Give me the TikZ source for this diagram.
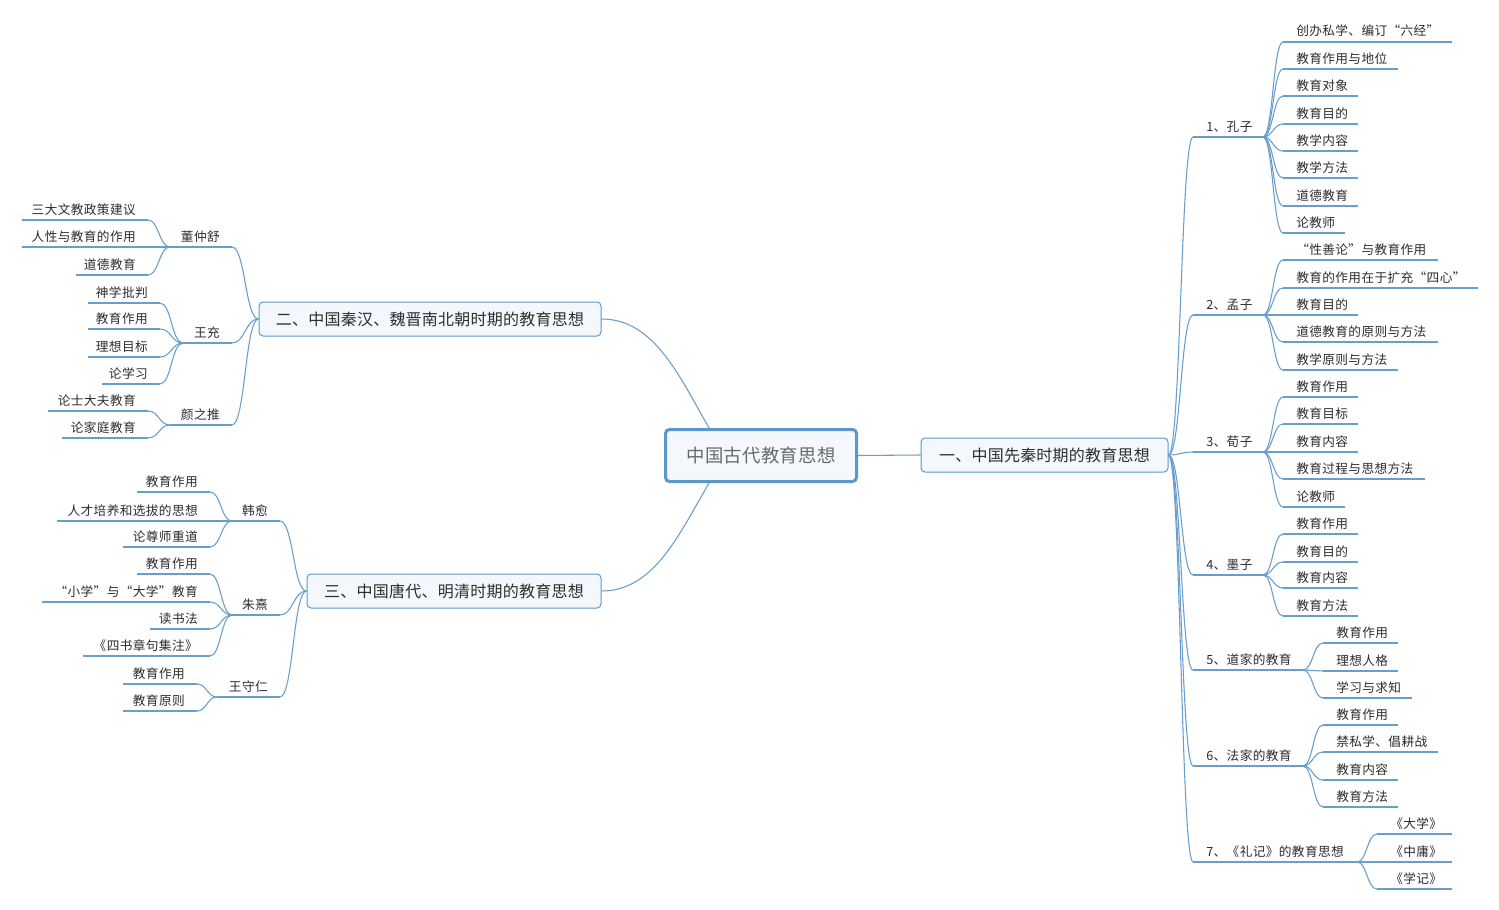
\documentclass[tikz,border=0pt]{standalone}
\usepackage{fontspec}
\newfontfamily\cjk[LetterSpace=3]{Noto Sans CJK SC}
\newfontfamily\cjkt[LetterSpace=1.5]{Noto Sans CJK SC}
\usetikzlibrary{calc,backgrounds}
\definecolor{linkc}{RGB}{104,158,204}
\definecolor{boxline}{RGB}{91,152,202}
\definecolor{boxfill}{RGB}{244,248,252}
\definecolor{txt}{RGB}{45,45,45}
\definecolor{maintxt}{RGB}{105,105,105}
\newcommand\RNode[6]{%
  \coordinate (#1a) at (#3,#5);
  \coordinate (#1b) at (#4,#5);
  \node[lbl,anchor=base west] (#1) at ({#3+13},{#5-6}) {#6};
  \draw[link] (#1a) -- (#1b);
  \draw[link] let \p1=(#2), \p2=(#1a) in (\p1) .. controls ({(\x1+\x2)/2},\y1) and ({(\x1+\x2)/2},\y2) .. (\p2);
}
\newcommand\LNode[6]{%
  \coordinate (#1a) at (#3,#5);
  \coordinate (#1b) at (#4,#5);
  \node[lbl,anchor=base east] (#1) at ({#4-12},{#5-6}) {#6};
  \draw[link] (#1a) -- (#1b);
  \draw[link] let \p1=(#2), \p2=(#1b) in (\p1) .. controls ({(\x1+\x2)/2},\y1) and ({(\x1+\x2)/2},\y2) .. (\p2);
}
\begin{document}
\begin{tikzpicture}[x=0.75pt,y=-0.75pt,
  link/.style={draw=linkc,line width=0.8pt},
  lbl/.style={font=\cjk\fontsize{9.5}{11}\selectfont,text=txt,inner sep=0pt},
  topic/.style={draw=boxline,line width=0.75pt,fill=boxfill,rounded corners=3pt,
    font=\cjkt\fontsize{12}{14}\selectfont,text=txt,inner sep=0pt,minimum height=25.5pt},
  central/.style={draw=boxline,line width=2.25pt,fill=boxfill,rounded corners=3pt,
    font=\cjkt\fontsize{13.8}{16}\selectfont,text=maintxt,inner sep=0pt,
    minimum width=143.25pt,minimum height=39pt}]
\useasboundingbox (0,0) rectangle (1499,910);

% main topics
\node[central] (main) at (761,455.5) {中国古代教育思想};
\node[topic,minimum width=185.25pt] (n1) at (1044.5,455) {一、中国先秦时期的教育思想};
\node[topic,minimum width=256.5pt] (n2) at (430,319) {二、中国秦汉、魏晋南北朝时期的教育思想};
\node[topic,minimum width=220.5pt] (n3) at (454,591) {三、中国唐代、明清时期的教育思想};

\coordinate (mt) at (710,429.5);
\coordinate (mb) at (710,481.5);
\begin{pgfonlayer}{background}
\fill[white] (0,0) rectangle (1499,910);
\draw[link] (main.east) -- (n1.west);
\draw[link] (n2.east) .. controls (655,319) and (680,378) .. (mt);
\draw[link] (n3.east) .. controls (655,591) and (680,532) .. (mb);
\end{pgfonlayer}

% ---- right side ----
\RNode{k1}{n1.east}{1193}{1263}{137}{1、孔子}
\RNode{k1c1}{k1b}{1283}{1452}{42}{创办私学、编订“六经”}
\RNode{k1c2}{k1b}{1283}{1398}{69}{教育作用与地位}
\RNode{k1c3}{k1b}{1283}{1358}{96}{教育对象}
\RNode{k1c4}{k1b}{1283}{1358}{124}{教育目的}
\RNode{k1c5}{k1b}{1283}{1358}{151}{教学内容}
\RNode{k1c6}{k1b}{1283}{1358}{178}{教学方法}
\RNode{k1c7}{k1b}{1283}{1358}{206}{道德教育}
\RNode{k1c8}{k1b}{1283}{1345}{233}{论教师}

\RNode{k2}{n1.east}{1193}{1263}{315}{2、孟子}
\RNode{k2c1}{k2b}{1283}{1438}{260}{“性善论”与教育作用}
\RNode{k2c2}{k2b}{1283}{1478}{288}{教育的作用在于扩充“四心”}
\RNode{k2c3}{k2b}{1283}{1358}{315}{教育目的}
\RNode{k2c4}{k2b}{1283}{1438}{342}{道德教育的原则与方法}
\RNode{k2c5}{k2b}{1283}{1398}{370}{教学原则与方法}

\RNode{k3}{n1.east}{1193}{1263}{452}{3、荀子}
\RNode{k3c1}{k3b}{1283}{1358}{397}{教育作用}
\RNode{k3c2}{k3b}{1283}{1358}{424}{教育目标}
\RNode{k3c3}{k3b}{1283}{1358}{452}{教育内容}
\RNode{k3c4}{k3b}{1283}{1425}{479}{教育过程与思想方法}
\RNode{k3c5}{k3b}{1283}{1345}{507}{论教师}

\RNode{k4}{n1.east}{1193}{1263}{575}{4、墨子}
\RNode{k4c1}{k4b}{1283}{1358}{534}{教育作用}
\RNode{k4c2}{k4b}{1283}{1358}{562}{教育目的}
\RNode{k4c3}{k4b}{1283}{1358}{588}{教育内容}
\RNode{k4c4}{k4b}{1283}{1358}{616}{教育方法}

\RNode{k5}{n1.east}{1193}{1303}{670}{5、道家的教育}
\RNode{k5c1}{k5b}{1323}{1398}{643}{教育作用}
\RNode{k5c2}{k5b}{1323}{1398}{671}{理想人格}
\RNode{k5c3}{k5b}{1323}{1412}{698}{学习与求知}

\RNode{k6}{n1.east}{1193}{1303}{766}{6、法家的教育}
\RNode{k6c1}{k6b}{1323}{1398}{725}{教育作用}
\RNode{k6c2}{k6b}{1323}{1438}{752}{禁私学、倡耕战}
\RNode{k6c3}{k6b}{1323}{1398}{780}{教育内容}
\RNode{k6c4}{k6b}{1323}{1398}{807}{教育方法}

\RNode{k7}{n1.east}{1193}{1357}{862}{7、《礼记》的教育思想}
\RNode{k7c1}{k7b}{1377}{1452}{834}{《大学》}
\RNode{k7c2}{k7b}{1377}{1452}{862}{《中庸》}
\RNode{k7c3}{k7b}{1377}{1452}{889}{《学记》}

% ---- left upper ----
\LNode{d}{n2.west}{170}{232}{247}{董仲舒}
\LNode{dc1}{da}{22}{148}{220}{三大文教政策建议}
\LNode{dc2}{da}{22}{148}{247}{人性与教育的作用}
\LNode{dc3}{da}{76}{148}{275}{道德教育}

\LNode{w}{n2.west}{183}{232}{343}{王充}
\LNode{wc1}{wa}{88}{160}{303}{神学批判}
\LNode{wc2}{wa}{88}{160}{329}{教育作用}
\LNode{wc3}{wa}{88}{160}{357}{理想目标}
\LNode{wc4}{wa}{102}{160}{384}{论学习}

\LNode{y}{n2.west}{170}{232}{425}{颜之推}
\LNode{yc1}{ya}{48}{148}{411}{论士大夫教育}
\LNode{yc2}{ya}{62}{148}{438}{论家庭教育}

% ---- left lower ----
\LNode{h}{n3.west}{232}{280}{521}{韩愈}
\LNode{hc1}{ha}{137}{210}{492}{教育作用}
\LNode{hc2}{ha}{57}{210}{521}{人才培养和选拔的思想}
\LNode{hc3}{ha}{123}{210}{547}{论尊师重道}

\LNode{z}{n3.west}{232}{280}{615}{朱熹}
\LNode{zc1}{za}{137}{210}{574}{教育作用}
\LNode{zc2}{za}{42}{210}{602}{“小学”与“大学”教育}
\LNode{zc3}{za}{150}{210}{629}{读书法}
\LNode{zc4}{za}{83}{210}{656}{《四书章句集注》}

\LNode{s}{n3.west}{217}{280}{697}{王守仁}
\LNode{sc1}{sa}{123}{197}{684}{教育作用}
\LNode{sc2}{sa}{123}{197}{711}{教育原则}
\end{tikzpicture}
\end{document}
